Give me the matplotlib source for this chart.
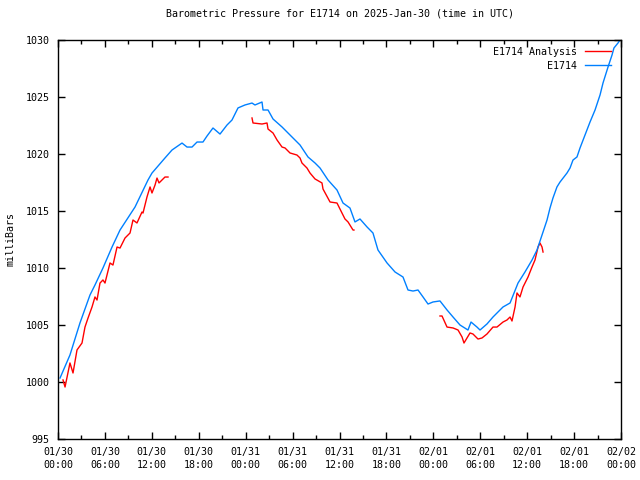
import matplotlib
matplotlib.use("Agg")
import matplotlib.pyplot as plt
import numpy as np

# Hours since 2025-01-30 00:00 UTC
obs_hours = [0.26, 1.53, 2.81, 4.09, 4.73, 5.75, 6.91, 7.93, 9.85, 11.51, 12.02, 13.68, 14.58,
             15.86, 16.50, 17.14, 17.78, 18.54, 19.06, 19.82, 20.72, 21.61, 22.25, 23.02, 23.91,
             24.81, 25.19, 26.09, 26.22, 26.86, 27.50, 28.65, 29.93, 30.95, 31.97, 32.87, 33.51,
             34.53, 35.68, 36.45, 37.34, 37.98, 38.62, 39.52, 40.28, 40.92, 42.08, 43.10, 44.12,
             44.76, 45.40, 46.04, 46.68, 47.32, 47.96, 48.85, 49.75, 50.52, 51.41, 52.43, 52.82,
             53.58, 53.97, 54.86, 55.63, 56.53, 56.91, 57.81, 58.83, 59.72, 60.62, 61.26, 62.03,
             62.54, 62.92, 63.30, 63.81, 64.20, 65.09, 65.48, 65.86, 66.37, 66.76, 67.40, 68.04,
             68.68, 69.32, 69.70, 70.34, 70.85, 71.10, 71.62, 71.87]
obs_mbar = [1000.35, 1002.37, 1005.18, 1007.63, 1008.51, 1010.00, 1011.84, 1013.33, 1015.35,
            1017.72, 1018.33, 1019.65, 1020.35, 1020.96, 1020.61, 1020.61, 1021.05, 1021.05,
            1021.58, 1022.28, 1021.75, 1022.54, 1022.98, 1024.04, 1024.30, 1024.47, 1024.30,
            1024.56, 1023.86, 1023.86, 1023.07, 1022.37, 1021.49, 1020.79, 1019.74, 1019.21,
            1018.77, 1017.72, 1016.84, 1015.70, 1015.26, 1014.04, 1014.30, 1013.60, 1013.07,
            1011.58, 1010.44, 1009.65, 1009.21, 1008.07, 1007.98, 1008.07, 1007.46, 1006.84,
            1007.02, 1007.11, 1006.32, 1005.70, 1005.00, 1004.56, 1005.26, 1004.82, 1004.56,
            1005.09, 1005.70, 1006.32, 1006.58, 1006.93, 1008.68, 1009.65, 1010.70, 1011.58,
            1013.16, 1014.21, 1015.26, 1016.14, 1017.11, 1017.54, 1018.33, 1018.77, 1019.47,
            1019.74, 1020.53, 1021.67, 1022.81, 1023.86, 1025.18, 1026.23, 1027.63, 1028.68,
            1029.30, 1029.74, 1030.00]

ana1_hours = [0.64, 0.90, 1.53, 1.92, 2.43, 3.07, 3.45, 3.84, 4.35, 4.73, 4.99, 5.37, 5.75, 6.01,
              6.65, 7.03, 7.55, 7.93, 8.57, 9.21, 9.59, 10.10, 10.74, 10.87, 11.38, 11.77, 12.02,
              12.41, 12.66, 12.92, 13.68, 14.07]
ana1_mbar = [1000.18, 999.56, 1001.67, 1000.79, 1002.81, 1003.42, 1004.82, 1005.61, 1006.58,
             1007.46, 1007.19, 1008.68, 1008.95, 1008.68, 1010.44, 1010.26, 1011.84, 1011.75,
             1012.63, 1013.07, 1014.21, 1013.95, 1014.91, 1014.82, 1016.23, 1017.11, 1016.58,
             1017.28, 1017.89, 1017.46, 1017.98, 1017.98]

ana2_hours = [24.81, 24.94, 26.09, 26.73, 26.86, 27.50, 28.01, 28.65, 29.03, 29.67, 30.56, 30.95,
              31.20, 31.84, 32.23, 32.87, 33.76, 33.89, 34.79, 35.68, 36.32, 36.70, 37.09, 37.73,
              37.85]
ana2_mbar = [1023.16, 1022.72, 1022.63, 1022.72, 1022.19, 1021.84, 1021.23, 1020.61, 1020.53,
             1020.09, 1019.91, 1019.65, 1019.21, 1018.77, 1018.33, 1017.81, 1017.46, 1016.93,
             1015.79, 1015.70, 1014.82, 1014.30, 1014.04, 1013.33, 1013.33]

ana3_hours = [48.85, 49.11, 49.75, 50.52, 51.16, 51.67, 51.92, 52.69, 53.07, 53.71, 54.22, 54.86,
              55.63, 56.14, 56.91, 57.42, 57.81, 58.06, 58.45, 58.70, 59.08, 59.47, 60.11, 60.62,
              61.00, 61.39, 61.64, 61.90, 62.03]
ana3_mbar = [1005.79, 1005.79, 1004.82, 1004.74, 1004.56, 1003.95, 1003.42, 1004.30, 1004.21,
             1003.77, 1003.86, 1004.21, 1004.82, 1004.82, 1005.26, 1005.44, 1005.70, 1005.35,
             1006.58, 1007.81, 1007.46, 1008.33, 1009.21, 1010.09, 1010.70, 1011.84, 1012.19,
             1011.84, 1011.40]

xtick_hours = [0, 6, 12, 18, 24, 30, 36, 42, 48, 54, 60, 66, 72]
xtick_labels = ["01/30\n00:00", "01/30\n06:00", "01/30\n12:00", "01/30\n18:00",
                "01/31\n00:00", "01/31\n06:00", "01/31\n12:00", "01/31\n18:00",
                "02/01\n00:00", "02/01\n06:00", "02/01\n12:00", "02/01\n18:00",
                "02/02\n00:00"]
yticks = [995, 1000, 1005, 1010, 1015, 1020, 1025, 1030]

plt.rcParams['font.family'] = ['DejaVu Sans Mono']
plt.rcParams['font.size'] = 7.2

fig = plt.figure(figsize=(6.4, 4.8), dpi=100)
ax = fig.add_axes([58/640, 1-439/480, (621-58)/640, (439-40)/480])

red = '#ff0000'
blue = '#0080ff'
ax.plot(ana1_hours, ana1_mbar, color=red, lw=1, label='E1714 Analysis')
ax.plot(ana2_hours, ana2_mbar, color=red, lw=1)
ax.plot(ana3_hours, ana3_mbar, color=red, lw=1)
ax.plot(obs_hours, obs_mbar, color=blue, lw=1, label='E1714')

ax.set_xlim(0, 72)
ax.set_ylim(995, 1030)
ax.set_xticks(xtick_hours)
ax.set_xticklabels(xtick_labels, linespacing=1.3)
ax.set_xticks(np.arange(3, 72, 6), minor=True)
ax.set_yticks(yticks)
ax.tick_params(which='both', direction='in', top=True, right=True, width=1)
ax.tick_params(which='major', length=5, pad=6)
ax.tick_params(which='minor', length=3)
for s in ax.spines.values():
    s.set_linewidth(1)

ax.set_ylabel('milliBars', labelpad=7)
ax.set_title('Barometric Pressure for E1714 on 2025-Jan-30 (time in UTC)', fontsize=7.2, pad=17)

leg = ax.legend(loc='upper right', frameon=False, markerfirst=False, handlelength=2.6,
                borderaxespad=0.3, labelspacing=0.4, handletextpad=0.8,
                bbox_to_anchor=(0.995, 1.0))

fig.savefig('out.png', dpi=100)
